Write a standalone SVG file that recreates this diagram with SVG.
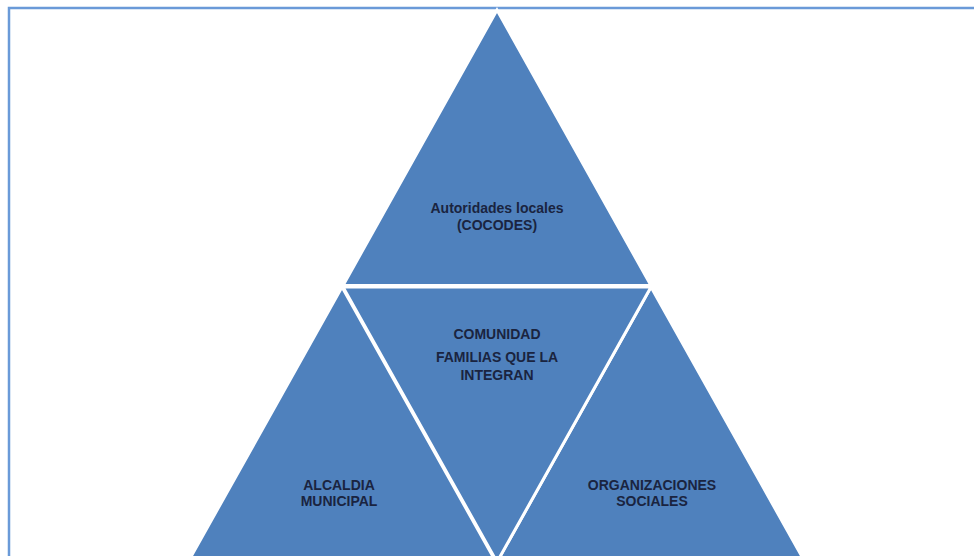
<svg xmlns="http://www.w3.org/2000/svg" width="974" height="556" viewBox="0 0 974 556">
<style>
.tri{fill:#4f81bd;stroke:#ffffff;stroke-width:3;stroke-linejoin:miter}
.lbl{font-family:"Liberation Sans",Arial,sans-serif;font-size:14px;font-weight:bold;fill:#1a2440;text-anchor:middle}
</style>
<rect x="0" y="0" width="974" height="556" fill="#ffffff"/>
<rect x="9" y="8" width="1000" height="600" fill="none" stroke="#6a9ad8" stroke-width="2.5"/>
<g id="top">
<polygon class="tri" points="497,10 343,285.5 651,285.5"/>
<text class="lbl" x="497" y="213">Autoridades locales</text>
<text class="lbl" x="497" y="230">(COCODES)</text>
</g>
<g id="left">
<polygon class="tri" points="342,287 188,562 496,562"/>
<text class="lbl" x="339" y="490">ALCALDIA</text>
<text class="lbl" x="339" y="506">MUNICIPAL</text>
</g>
<g id="right">
<polygon class="tri" points="651,287 497,562 805,562"/>
<text class="lbl" x="652" y="490">ORGANIZACIONES</text>
<text class="lbl" x="652" y="506">SOCIALES</text>
</g>
<g id="center">
<polygon class="tri" points="343,287 651,287 497,562"/>
<text class="lbl" x="497" y="339">COMUNIDAD</text>
<text class="lbl" x="497" y="362">FAMILIAS QUE LA</text>
<text class="lbl" x="497" y="380">INTEGRAN</text>
</g>
<g id="connectors"></g>
</svg>
